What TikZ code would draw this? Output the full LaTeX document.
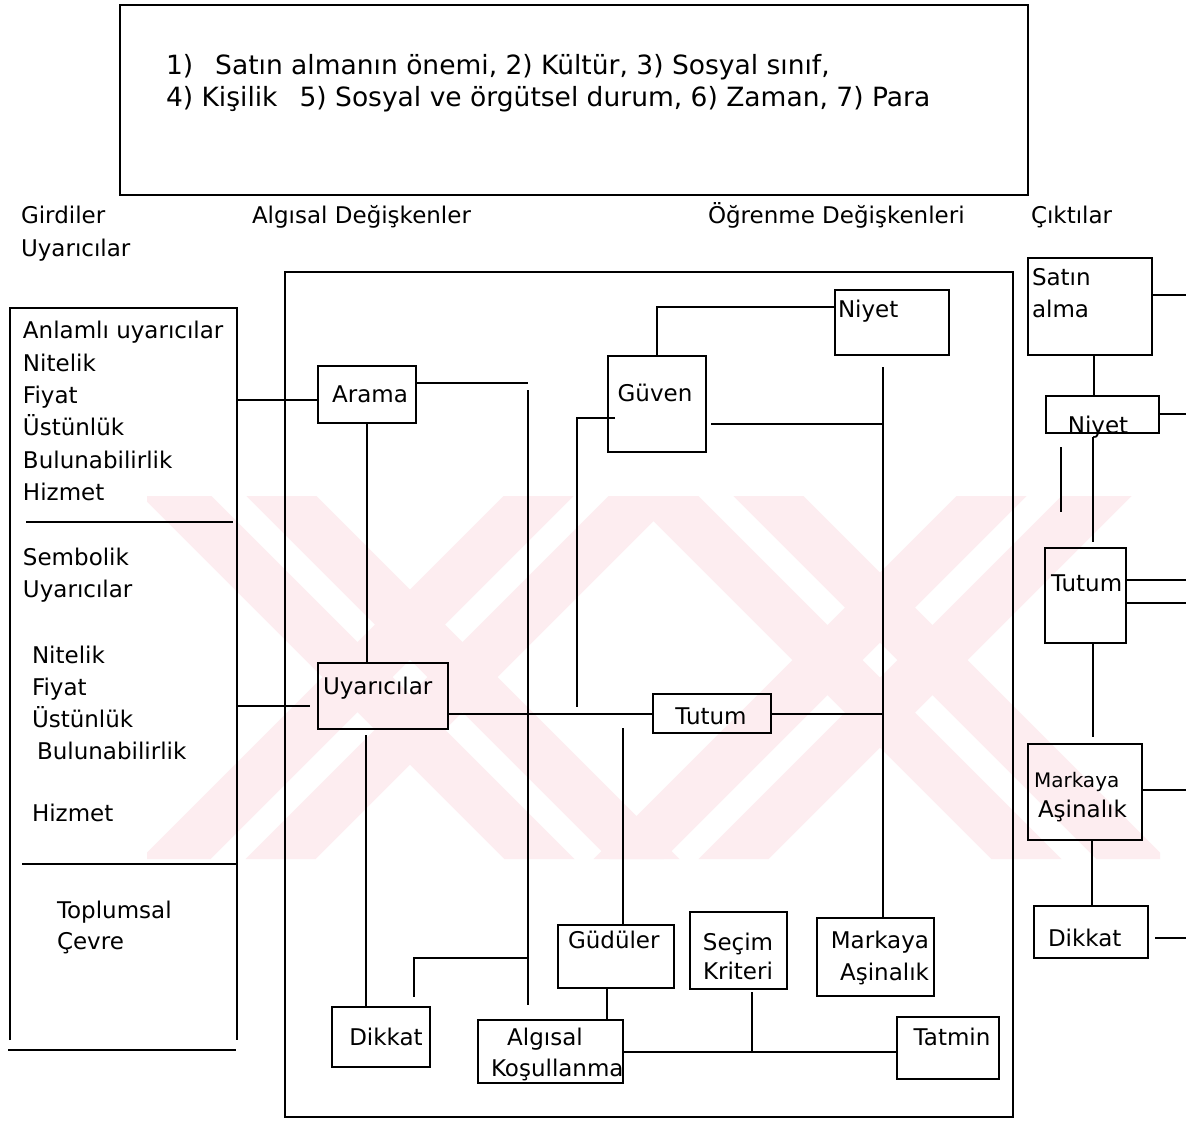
\documentclass[tikz,border=0pt]{standalone}
\usepackage{fontspec}
\setmainfont{DejaVu Sans}
\definecolor{wmpink}{RGB}{253,237,240}
\newcommand\bxnode[6][]{\node[box,#1,minimum width={#5-#3},minimum height={#6-#4}] (#2) at ({(#3+#5)/2},{(#4+#6)/2}) {};}
\begin{document}
\begin{tikzpicture}[x=1pt,y=-1pt,line width=2pt,
  box/.style={draw,line width=2pt,inner sep=0pt,outer sep=0pt},
  txt/.style={inner sep=0pt,anchor=mid west,yshift=-6pt,font=\fontsize{23}{32}\selectfont},
  ctxt/.style={inner sep=0pt,anchor=mid,yshift=-6pt,font=\fontsize{23}{32}\selectfont},
  rtxt/.style={inner sep=0pt,anchor=mid east,yshift=-6pt,font=\fontsize{23}{32}\selectfont},
  stxt/.style={inner sep=0pt,anchor=mid west,yshift=-5pt,font=\fontsize{20}{28}\selectfont},
  btxt/.style={inner sep=0pt,anchor=mid west,yshift=-7pt,font=\fontsize{26.5}{32}\selectfont}]
\fill[white] (0,0) rectangle (1186,1120);
\useasboundingbox (0,0) rectangle (1186,1120);

% faint watermark behind the diagram
\begin{scope}
\clip (147,496) rectangle (1160,859);
\foreach \a in {141.5,246.5,628.5,733.5}
  \fill[wmpink] (\a,496) -- (\a+70,496) -- (\a+433,859) -- (\a+363,859) -- cycle;
\foreach \a in {503.5,608.5,956.5,1061.5}
  \fill[wmpink] (\a,496) -- (\a+70,496) -- (\a-293,859) -- (\a-363,859) -- cycle;
\end{scope}

% boxes
\bxnode{top}{120}{5}{1028}{195}
\bxnode[draw=none]{girdi}{10}{308}{237}{1040}
\bxnode{mid}{285}{272}{1013}{1117}
\bxnode{arama}{318}{366}{416}{423}
\bxnode{uyar}{318}{663}{448}{729}
\bxnode{dik1}{332}{1007}{430}{1067}
\bxnode{tutum1}{653}{694}{771}{733}
\bxnode{niyet1}{835}{290}{949}{355}
\bxnode{guven}{608}{356}{706}{452}
\bxnode{gud}{558}{925}{674}{988}
\bxnode{algk}{478}{1020}{623}{1083}
\bxnode{secim}{690}{912}{787}{989}
\bxnode{mark1}{817}{918}{934}{996}
\bxnode{tatmin}{897}{1017}{999}{1079}
\bxnode{satin}{1028}{258}{1152}{355}
\bxnode{niyet2}{1046}{396}{1159}{433}
\bxnode{tutum2}{1045}{548}{1126}{643}
\bxnode{mark2}{1028}{744}{1142}{840}
\bxnode{dik2}{1034}{906}{1148}{958}

% top box text
\node[btxt] (top1) at (165,65) {1)\hspace{22pt}Satın almanın önemi, 2) Kültür, 3) Sosyal sınıf,};
\node[btxt] (top2) at (165,97) {4) Kişilik\hspace{22pt}5) Sosyal ve örgütsel durum, 6) Zaman, 7) Para};

% headers
\node[txt] (h1) at (20,215) {Girdiler};
\node[txt] (h2) at (20,248) {Uyarıcılar};
\node[txt] (h3) at (251,215) {Algısal Değişkenler};
\node[txt] (h4) at (707,215) {Öğrenme Değişkenleri};
\node[txt] (h5) at (1030,215) {Çıktılar};

% left box
\draw (girdi.south west) -- (girdi.north west) -- (girdi.north east) -- (girdi.south east);
\coordinate (gb1) at (8,1050); \coordinate (gb2) at (236,1050);
\draw (gb1) -- (gb2);
\coordinate (s1a) at (26,522); \coordinate (s1b) at (233,522);
\coordinate (s2a) at (22,864); \coordinate (s2b) at (236,864);
\draw (s1a) -- (s1b);
\draw (s2a) -- (s2b);
\foreach \t/\xx/\yy [count=\i] in {Anlamlı uyarıcılar/22/330, Nitelik/22/363, Fiyat/22/395, Üstünlük/22/427, Bulunabilirlik/22/460, Hizmet/22/492, Sembolik/22/557, Uyarıcılar/22/589, Nitelik/31/655, Fiyat/31/687, Üstünlük/31/719, Bulunabilirlik/36/751, Hizmet/31/813, Toplumsal/56/910, Çevre/56/941}
  \node[txt] (la\i) at (\xx,\yy) {\t};

% box texts
\node[ctxt] (tarama) at (370,394) {Arama};
\node[txt] (tuyar) at (322,686) {Uyarıcılar};
\node[ctxt] (tdik1) at (386,1037) {Dikkat};
\node[ctxt] (ttutum1) at (711,716) {Tutum};
\node[txt] (tniyet1) at (837,309) {Niyet};
\node[ctxt] (tguven) at (655,393) {Güven};
\node[txt] (tgud) at (567,940) {Güdüler};
\node[ctxt] (talg1) at (545,1037) {Algısal};
\node[txt] (talg2) at (490,1068) {Koşullanma};
\node[ctxt] (tsec1) at (738,942) {Seçim};
\node[ctxt] (tsec2) at (738,971) {Kriteri};
\node[rtxt] (tmark1a) at (930,940) {Markaya};
\node[rtxt] (tmark1b) at (930,972) {Aşinalık};
\node[ctxt] (ttatmin) at (952,1037) {Tatmin};
\node[txt] (tsatin1) at (1031,277) {Satın};
\node[txt] (tsatin2) at (1031,309) {alma};
\node[ctxt] (tniyet2) at (1098,425) {Niyet};
\node[txt] (ttutum2) at (1050,583) {Tutum};
\node[stxt] (tmark2a) at (1033,780) {Markaya};
\node[txt] (tmark2b) at (1037,809) {Aşinalık};
\node[txt] (tdik2) at (1047,938) {Dikkat};

% connectors, middle block
\draw (girdi.east |- 0,400) -- (arama.west |- 0,400);
\coordinate (ge2) at (310,706);
\draw (girdi.east |- ge2) -- (ge2);
\draw (arama.south -| 367,0) -- (uyar.north -| 367,0);
\draw (uyar.south -| 366,0) ++(0,6) -- (dik1.north -| 366,0);
\coordinate (ja) at (528,383);
\coordinate (jb) at (528,390);
\coordinate (jc) at (528,1005);
\coordinate (jd) at (528,958);
\draw (arama.east |- ja) -- (ja);
\draw (jb) -- (jc);
\draw (jd) -| (414,997);
\draw (uyar.east |- tutum1.west) -- (tutum1.west);
\coordinate (ka) at (883,367);
\draw (tutum1.east) -- (tutum1.east -| ka);
\draw (ka) -- (mark1.north -| ka);
\draw (guven.east |- 0,424) ++(5,0) -- (ka |- 0,424);
\draw (guven.north) |- (niyet1.west |- 0,307);
\coordinate (la) at (577,707);
\draw (guven.west |- 0,418) ++(7,0) -| (la);
\coordinate (ma) at (623,728);
\draw (ma) -- (gud.north -| ma);
\draw (gud.south -| 607,0) -- (algk.north -| 607,0);
\draw (algk.east |- 0,1052) -- (tatmin.west |- 0,1052);
\coordinate (na) at (752,1052);
\draw (secim.south -| na) ++(0,3) -- (na);

% connectors, right column
\coordinate (ea) at (1186,295);
\coordinate (eb) at (1186,414);
\coordinate (ec) at (1186,580);
\coordinate (ed) at (1186,603);
\coordinate (ee) at (1186,790);
\coordinate (ef) at (1186,938);
\draw (satin.east |- ea) -- (ea);
\draw (satin.south -| 1094,0) -- (niyet2.north -| 1094,0);
\draw (niyet2.east |- eb) -- (eb);
\coordinate (qa) at (1093,542);
\draw (niyet2.south -| qa) ++(0,4) -- (qa);
\coordinate (pa) at (1061,447); \coordinate (pb) at (1061,512);
\draw (pa) -- (pb);
\draw (tutum2.east |- ec) -- (ec);
\draw (tutum2.east |- ed) -- (ed);
\coordinate (qb) at (1093,737);
\draw (tutum2.south -| qb) -- (qb);
\draw (mark2.east |- ee) -- (ee);
\draw (mark2.south -| 1092,0) -- (dik2.north -| 1092,0);
\draw (dik2.east |- ef) ++(7,0) -- (ef);
\end{tikzpicture}
\end{document}
